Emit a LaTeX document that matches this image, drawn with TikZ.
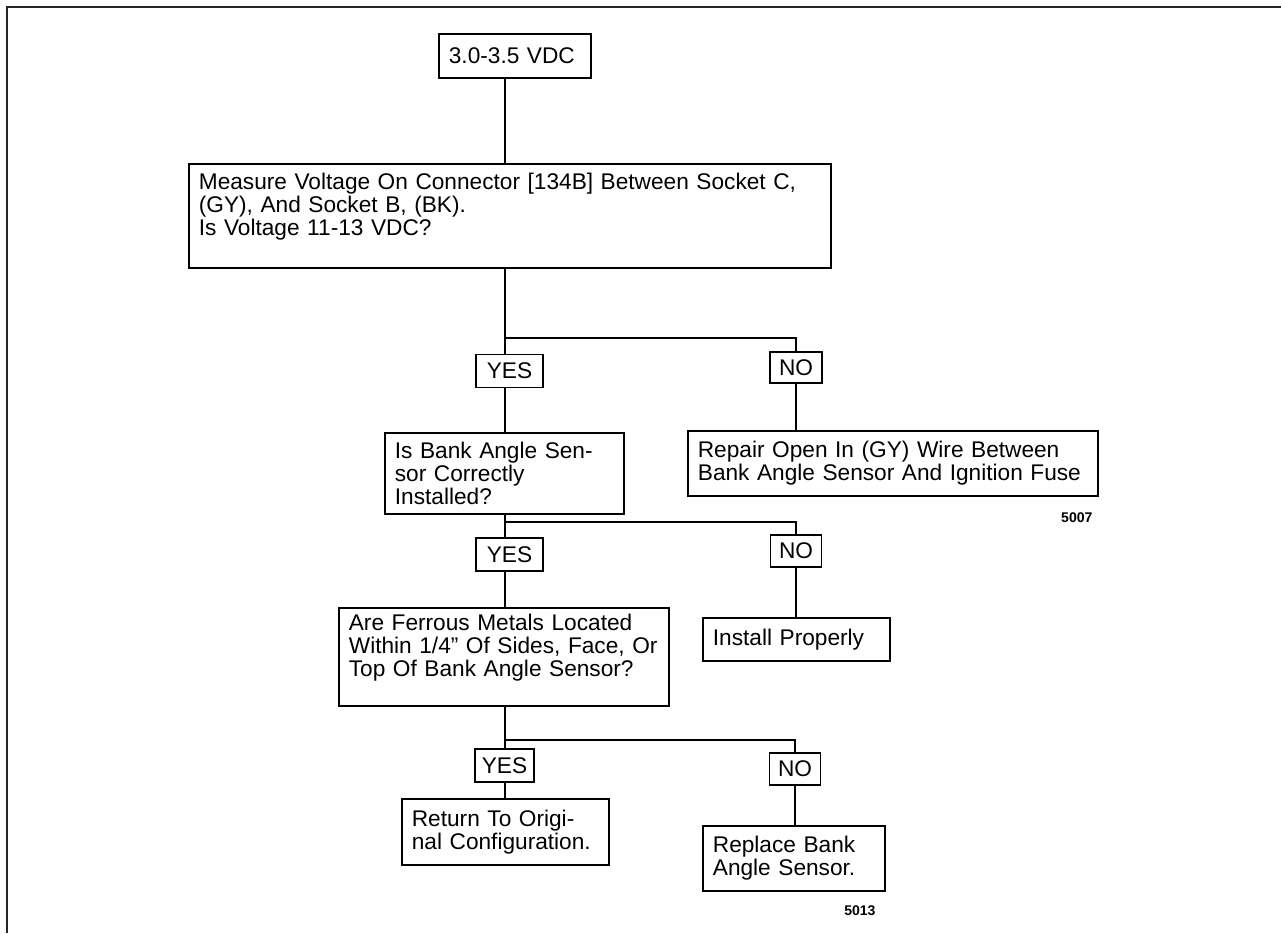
\documentclass[tikz,border=0pt]{standalone}
\usepackage{fontspec}
\setmainfont{Liberation Sans}
\usepackage{tikz}
\usetikzlibrary{positioning}
\newcommand{\chartfont}{\fontsize{12.9}{13.1}\selectfont}

\begin{document}
\begin{tikzpicture}[
    x=0.02cm, y=-0.02cm,
    box/.style={draw, line width=1pt, anchor=north west, align=left, inner xsep=0.2cm, inner ysep=0pt, font=\chartfont},
    tag/.style={draw, line width=1pt, inner sep=0pt, minimum width=1.34cm, minimum height=0.66cm, font=\chartfont},
    wire/.style={line width=1pt},
    fignum/.style={font=\fontsize{8}{9}\selectfont\bfseries}
]
\useasboundingbox (0,0) rectangle (1281,933);
\draw[line width=1.2pt, black!85] (1281,7) -- (7,7) -- (7,933);

\node[box, text width=2.64cm, minimum height=0.88cm] (vdc) at (438,33) {3.0-3.5 VDC};
\node[box, text width=12.44cm, minimum height=2.08cm] (meas) at (188,163)
    {Measure Voltage On Connector [134B] Between Socket C,\\(GY), And Socket B, (BK).\\Is Voltage 11-13 VDC?\\ \mbox{}};

\node[tag] (yes1) at (509.5,371) {YES};
\node[tag, minimum width=1.04cm, minimum height=0.62cm] (no1) at (796,367.5) {NO};

\node[box, text width=4.38cm, minimum height=1.62cm] (bank) at (384,432)
    {Is Bank Angle Sen-\\sor Correctly\\Installed?};
\node[box, text width=7.8cm, minimum height=1.30cm] (repair) at (687,430)
    {Repair Open In (GY) Wire Between\\Bank Angle Sensor And Ignition Fuse};
\node[fignum, below left=0.2cm and 0cm of repair.south east] (fig1) {5007};

\node[tag] (yes2) at (509.5,554.5) {YES};
\node[tag, minimum width=1.02cm, minimum height=0.64cm] (no2) at (796,551) {NO};

\node[box, text width=6.2cm, minimum height=1.96cm] (ferrous) at (338,607)
    {Are Ferrous Metals Located\\Within 1/4” Of Sides, Face, Or\\Top Of Bank Angle Sensor?\\ \mbox{}};
\node[box, text width=3.34cm, minimum height=0.86cm] (install) at (702,617) {Install Properly};

\node[tag, minimum width=1.18cm] (yes3) at (504.5,765.5) {YES};
\node[tag, minimum width=1.02cm, minimum height=0.64cm] (no3) at (795,769) {NO};

\node[box, text width=3.74cm, minimum height=1.32cm] (restore) at (401,798)
    {Return To Origi-\\nal Configuration.};
\node[box, text width=3.24cm, minimum height=1.30cm] (replace) at (702,825)
    {Replace Bank\\Angle Sensor.};
\node[fignum, below left=0.16cm and 0.08cm of replace.south east] (fig2) {5013};

\coordinate (trunk) at (505,0);
\coordinate (fork1) at (796,338);
\coordinate (fork2) at (796,522);
\coordinate (fork3) at (795,740);

\draw[wire] (vdc.south -| trunk) -- (meas.north -| trunk);
\draw[wire] (meas.south -| trunk) -- (yes1.north -| trunk);
\draw[wire] (trunk |- fork1) -| (no1.north);
\draw[wire] (yes1.south -| trunk) -- (bank.north -| trunk);
\draw[wire] (no1.south) -- (no1.south |- repair.north);

\draw[wire] (bank.south -| trunk) -- (yes2.north -| trunk);
\draw[wire] (trunk |- fork2) -| (no2.north);
\draw[wire] (yes2.south -| trunk) -- (ferrous.north -| trunk);
\draw[wire] (no2.south) -- (no2.south |- install.north);

\draw[wire] (ferrous.south -| trunk) -- (yes3.north -| trunk);
\draw[wire] (trunk |- fork3) -| (no3.north);
\draw[wire] (yes3.south -| trunk) -- (restore.north -| trunk);
\draw[wire] (no3.south) -- (no3.south |- replace.north);
\end{tikzpicture}
\end{document}
